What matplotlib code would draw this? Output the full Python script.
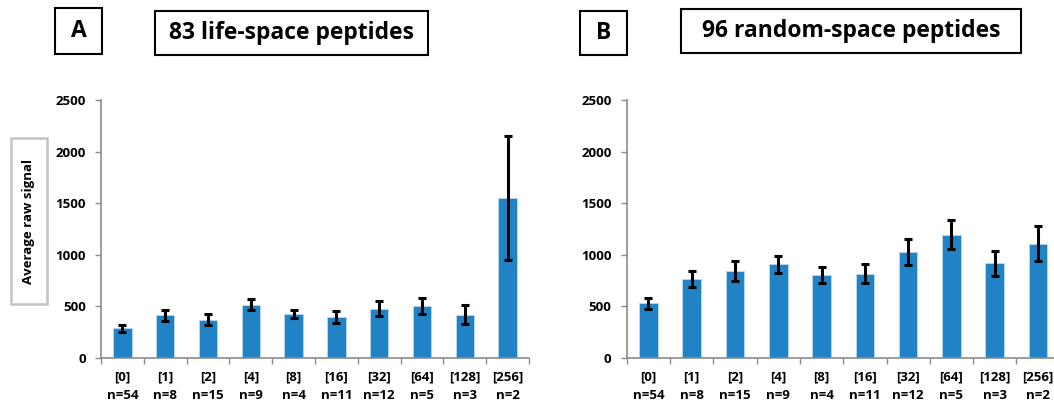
import numpy as np
import matplotlib.pyplot as plt
from matplotlib.patches import Rectangle

plt.rcParams['font.family'] = ['Open Sans', 'DejaVu Sans']
plt.rcParams['font.weight'] = 'bold'

categories = ['[0]', '[1]', '[2]', '[4]', '[8]', '[16]', '[32]', '[64]', '[128]', '[256]']
counts = [54, 8, 15, 9, 4, 11, 12, 5, 3, 2]

life_mean = [285, 410, 370, 515, 425, 398, 474, 500, 419, 1550]
life_err = [35, 50, 52, 50, 42, 58, 73, 80, 92, 603]

random_mean = [530, 765, 840, 905, 800, 815, 1025, 1195, 917, 1105]
random_err = [53, 76, 97, 86, 76, 92, 123, 145, 121, 171]

W, H = 1054, 404
fig = plt.figure(figsize=(W / 100, H / 100), dpi=100)


def px_box(x0, y0, x1, y1):
    # pixel box (top-left origin) -> figure fraction rectangle
    return x0 / W, 1 - y1 / H, (x1 - x0) / W, (y1 - y0) / H


def boxed_text(x0, y0, x1, y1, text, size, color='black', lw=1.5, rot=0):
    l, b, w, h = px_box(x0, y0, x1, y1)
    fig.add_artist(Rectangle((l, b), w, h, transform=fig.transFigure,
                             fill=False, edgecolor=color, linewidth=lw))
    fig.text(l + w / 2, b + h / 2, text, ha='center', va='center',
             fontsize=size, fontweight='bold', rotation=rot)


xlabels = [f'{c}\nn={n}' for c, n in zip(categories, counts)]
x = np.arange(len(categories))


def panel(left_px, width_px, means, errs):
    l, b, w, h = px_box(left_px, 100, left_px + width_px, 357.7)
    ax = fig.add_axes([l, b, w, h])
    ax.bar(x, means, width=0.43, color='#2183c6', edgecolor='#bcd8ee', linewidth=0.6)
    ax.errorbar(x, means, yerr=errs, fmt='none', ecolor='black',
                elinewidth=2.2, capsize=2.9, capthick=2.2)
    ax.set_xlim(-0.5, 9.5)
    ax.set_ylim(0, 2500)
    ax.set_yticks([0, 500, 1000, 1500, 2000, 2500])
    ax.set_xticks(x)
    ax.set_xticklabels(xlabels, fontsize=9.5, fontweight='bold', linespacing=1.55)
    ax.set_xticks(np.arange(-0.5, 10, 1), minor=True)
    ax.tick_params(axis='x', which='major', length=0, pad=9)
    ax.tick_params(axis='x', which='minor', length=4, width=1, color='#8c8c8c', direction='out')
    ax.tick_params(axis='y', length=4, width=1, color='#8c8c8c', labelsize=9.5, pad=7)
    for lab in ax.get_yticklabels():
        lab.set_fontweight('bold')
    for side in ['top', 'right']:
        ax.spines[side].set_visible(False)
    for side in ['left', 'bottom']:
        ax.spines[side].set_color('#8c8c8c')
        ax.spines[side].set_linewidth(1.2)
    return ax


panel(101, 428, life_mean, life_err)
panel(626.7, 433, random_mean, random_err)

boxed_text(55, 8, 102, 54, 'A', 16.5)
boxed_text(155, 11, 428, 55, '83 life-space peptides', 16.5)
boxed_text(580, 11, 627, 55, 'B', 16.5)
boxed_text(681, 9, 1021, 53, '96 random-space peptides', 16.5)
boxed_text(10.7, 138, 46.7, 304, 'Average raw signal', 9.5, color='#c4c4c4', lw=1.8, rot=90)

fig.savefig('out.png', dpi=100)
